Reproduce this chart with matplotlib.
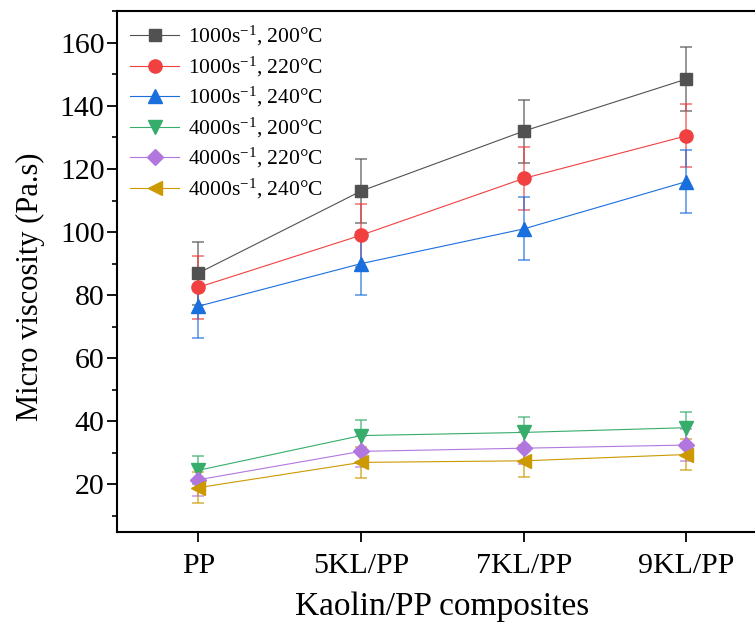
import numpy as np
import matplotlib
matplotlib.use('Agg')
import matplotlib.pyplot as plt
from matplotlib.ticker import MultipleLocator

plt.rcParams['font.family'] = ['Liberation Serif', 'DejaVu Serif']
plt.rcParams['mathtext.fontset'] = 'custom'
plt.rcParams['mathtext.rm'] = 'Liberation Serif'
plt.rcParams['mathtext.it'] = 'Liberation Serif:italic'

# data
samples = ['PP', '5KL/PP', '7KL/PP', '9KL/PP']
labels = [r'1000s$^{\mathrm{-1}}$, 200°C', r'1000s$^{\mathrm{-1}}$, 220°C',
          r'1000s$^{\mathrm{-1}}$, 240°C', r'4000s$^{\mathrm{-1}}$, 200°C',
          r'4000s$^{\mathrm{-1}}$, 220°C', r'4000s$^{\mathrm{-1}}$, 240°C']

v1000_200 = [87, 113, 132, 148.5]
v1000_220 = [82.5, 99, 117, 130.5]
v1000_240 = [76.5, 90, 101, 116]
v4000_200 = [24.5, 35.5, 36.5, 38]
v4000_220 = [21.5, 30.5, 31.5, 32.5]
v4000_240 = [19, 27, 27.5, 29.5]

err1000_200 = [10, 10, 10, 10]
err1000_220 = [10, 10, 10, 10]
err1000_240 = [10, 10, 10, 10]
err4000_200 = [4.5, 5, 5, 5]
err4000_220 = [5, 5, 5, 5]
err4000_240 = [5, 5, 5, 5]

series = [v1000_200, v1000_220, v1000_240, v4000_200, v4000_220, v4000_240]
errors = [err1000_200, err1000_220, err1000_240, err4000_200, err4000_220, err4000_240]
colors = ['#515151', '#F14040', '#1A6FDF', '#37AD6B', '#B177DE', '#CC9900']
markers = ['s', 'o', '^', 'v', 'D', '<']
msizes = [8.5, 9.5, 10.5, 10.5, 8, 10.5]

fig = plt.figure(figsize=(7.55, 6.22), dpi=100)
ax = fig.add_axes([0.155, 0.145, 0.862, 0.837])

x = np.arange(len(samples))
for vals, err, c, m, ms, lab in zip(series, errors, colors, markers, msizes, labels):
    ax.errorbar(x, vals, yerr=err, fmt='none', ecolor=c, alpha=0.7,
                elinewidth=1.2, capsize=4.5, capthick=1.2, zorder=2)
    ax.plot(x, vals, color=c, linewidth=0.8, marker=m, markersize=ms,
            markerfacecolor=c, markeredgecolor=c, label=lab, zorder=3)

ax.set_xlim(-0.5, 3.5)
ax.set_ylim(5, 170)
ax.set_xticks(x)
ax.set_xticklabels(samples)
ax.yaxis.set_major_locator(MultipleLocator(20))
ax.yaxis.set_minor_locator(MultipleLocator(10))

ax.tick_params(axis='both', which='major', direction='out', length=7, width=1.3,
               labelsize=21.5)
ax.tick_params(axis='y', which='minor', direction='out', length=3.5, width=1.2)
ax.tick_params(axis='x', which='major', pad=8)
ax.tick_params(axis='y', which='major', pad=2)
for s in ax.spines.values():
    s.set_linewidth(1.5)

ax.set_xlabel('Kaolin/PP composites', fontsize=24, labelpad=9)
ax.set_ylabel('Micro viscosity (Pa.s)', fontsize=22)
ax.yaxis.set_label_coords(-0.11, 0.47)

ax.legend(loc='upper left', frameon=False, fontsize=15.5, handlelength=2.3,
          handletextpad=0.4, labelspacing=0.3, borderaxespad=0.2,
          bbox_to_anchor=(0.0, 1.0))

fig.savefig('out.png', dpi=100)
